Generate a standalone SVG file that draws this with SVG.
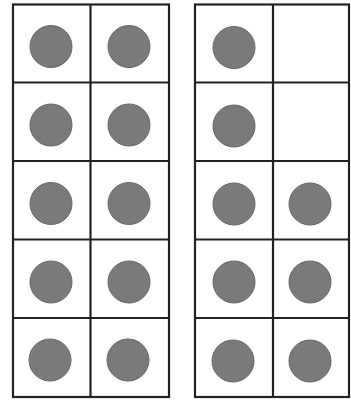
<svg xmlns="http://www.w3.org/2000/svg" width="351" height="404" viewBox="0 0 351 404">
<style>
.grid{fill:none;stroke:#222;stroke-width:2.2}
.dot{fill:#7a7a7a;stroke:#666;stroke-width:1}
</style>
<rect width="351" height="404" fill="#fff"/>
<g id="frame-left">
<rect class="grid" x="13" y="4.5" width="156" height="392.5"/>
<line class="grid" x1="90.5" y1="4.5" x2="90.5" y2="397"/>
<line class="grid" x1="13" y1="82.5" x2="169" y2="82.5"/>
<line class="grid" x1="13" y1="161" x2="169" y2="161"/>
<line class="grid" x1="13" y1="239.5" x2="169" y2="239.5"/>
<line class="grid" x1="13" y1="318" x2="169" y2="318"/>
<circle class="dot" cx="51" cy="46.5" r="21"/>
<circle class="dot" cx="129" cy="46.5" r="21"/>
<circle class="dot" cx="51" cy="125" r="21"/>
<circle class="dot" cx="129" cy="125" r="21"/>
<circle class="dot" cx="51" cy="203.5" r="21"/>
<circle class="dot" cx="129" cy="203.5" r="21"/>
<circle class="dot" cx="51" cy="282" r="21"/>
<circle class="dot" cx="129" cy="282" r="21"/>
<circle class="dot" cx="50" cy="360" r="21"/>
<circle class="dot" cx="128" cy="360" r="21"/>
</g>
<g id="frame-right">
<rect class="grid" x="195" y="4.5" width="154" height="392.5"/>
<line class="grid" x1="273" y1="4.5" x2="273" y2="397"/>
<line class="grid" x1="195" y1="82.5" x2="349" y2="82.5"/>
<line class="grid" x1="195" y1="161" x2="349" y2="161"/>
<line class="grid" x1="195" y1="239.5" x2="349" y2="239.5"/>
<line class="grid" x1="195" y1="318" x2="349" y2="318"/>
<circle class="dot" cx="234" cy="47.5" r="21"/>
<circle class="dot" cx="234" cy="126" r="21"/>
<circle class="dot" cx="234" cy="204" r="21"/>
<circle class="dot" cx="310" cy="204" r="21"/>
<circle class="dot" cx="234" cy="282" r="21"/>
<circle class="dot" cx="310" cy="282" r="21"/>
<circle class="dot" cx="233" cy="361" r="21"/>
<circle class="dot" cx="310" cy="361" r="21"/>
</g>
</svg>
